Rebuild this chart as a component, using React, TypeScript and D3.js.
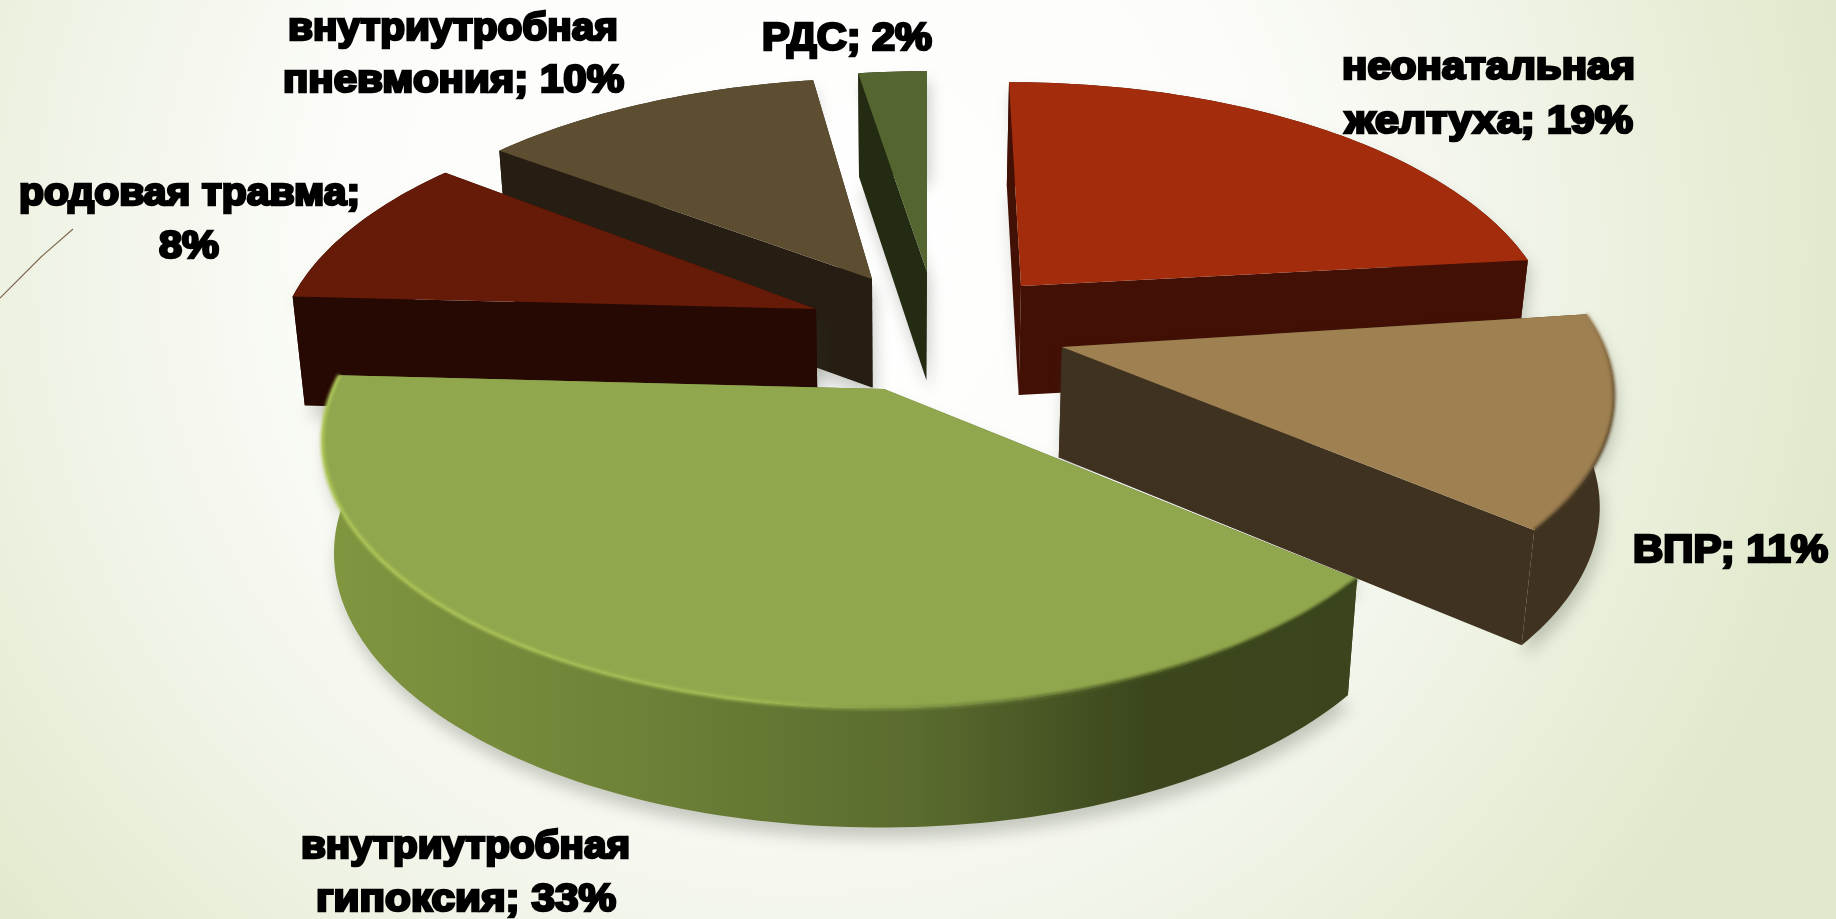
import React from "react";
import * as d3 from "d3";

const W = 1836;
const H = 919;

// Data
const categories = ["неонатальная желтуха", "ВПР", "внутриутробная гипоксия", "родовая травма", "внутриутробная пневмония", "РДС"];
const percents = [19, 11, 33, 8, 10, 2];

// Label line breaks
const labelLines = [
  ["неонатальная", "желтуха; 19%"],
  ["ВПР; 11%"],
  ["внутриутробная", "гипоксия; 33%"],
  ["родовая травма;", "8%"],
  ["внутриутробная", "пневмония; 10%"],
  ["РДС; 2%"],
];

// Layout, per slice
const topColors = ["#A32C0C", "#9E8051", "#91A74D", "#651B08", "#5E4E31", "#556530"];
const wallColors = ["#421005", "#3F3220", "#3a451d", "#260902", "#261E12", "#232B13"];
const apexX = [1021, 1062, 884, 816, 872, 927];
const apexY = [286, 347, 389, 309, 279, 272];
const rimScaleX = [0.99, 1, 1.01, 1, 1, 1];
const rimScaleY = [1, 1, 1.03, 1, 1, 1];
const rimShiftX = [-12, 0, -4, 12, 10, 0];
const rimShiftY = [-3, -10, -9, -8, 0, 0];
const paintOrder = [5, 4, 3, 0, 1, 2];

// Label layout: [x0, x1, baseline] per line
const labelBoxes = [
  [[1341, 1636, 79], [1344, 1634, 133]],
  [[1632, 1829, 562]],
  [[300, 631, 858], [315, 617, 911]],
  [[18, 361, 205], [158, 220, 258]],
  [[287, 619, 40], [282, 625, 92]],
  [[761, 933, 50]],
];

// Projection of the tilted pie plane
const PX = 542;
const PY = 248.5;
const PC = 9.5;
const PK = 0.19;
const VANISH_X = 900;

type Pt = [number, number];

function rimOffset(theta: number): Pt {
  const p = Math.sin(theta);
  const q = -Math.cos(theta);
  const w = 1 - PK * q;
  return [(PX * p) / w, (PY * q + PC) / w];
}

function rimPoint(i: number, theta: number): Pt {
  const [x, y] = rimOffset(theta);
  return [apexX[i] + x * rimScaleX[i] + rimShiftX[i], apexY[i] + y * rimScaleY[i] + rimShiftY[i]];
}

function drop([x, y]: Pt): Pt {
  const depth = 108 + (y - 250) * 0.025;
  return [VANISH_X + (x - VANISH_X) * 0.98, y + depth];
}

const line = d3.line<Pt>();
const closed = (pts: Pt[]) => (line(pts) as string) + "Z";

const arcs = d3.pie<number>().sort(null).value((d) => d)(percents);

function sliceShapes(i: number) {
  const a = arcs[i];
  const n = Math.max(8, Math.ceil((a.endAngle - a.startAngle) * 50));
  const rim: Pt[] = d3.range(n + 1).map((k) => rimPoint(i, a.startAngle + ((a.endAngle - a.startAngle) * k) / n));
  const apex: Pt = [apexX[i], apexY[i]];
  const first = rim[0];
  const last = rim[rim.length - 1];
  return {
    rim,
    top: closed([apex, ...rim]),
    outer: closed([...rim, ...rim.map(drop).reverse()]),
    startWall: closed([apex, first, drop(first), drop(apex)]),
    endWall: closed([apex, last, drop(last), drop(apex)]),
    silhouette: closed([apex, ...rim, ...rim.map(drop).reverse(), drop(apex)]),
  };
}

export default function App() {
  return (
    <svg width={W} height={H} style={{ position: "fixed", left: 0, top: 0 }} viewBox={`0 0 ${W} ${H}`}>
      <defs>
        <radialGradient id="bg" gradientUnits="userSpaceOnUse" cx={800} cy={250} r={1060}>
          <stop offset="0" stopColor="#ffffff" />
          <stop offset="0.42" stopColor="#fcfdfa" />
          <stop offset="0.66" stopColor="#f2f5ea" />
          <stop offset="1" stopColor="#e0e9cb" />
        </radialGradient>
        <linearGradient id="greenWall" gradientUnits="userSpaceOnUse" x1={325} x2={1350} y1={0} y2={0}>
          <stop offset="0" stopColor="#81963f" />
          <stop offset="0.3" stopColor="#6e8238" />
          <stop offset="0.58" stopColor="#5a6b2e" />
          <stop offset="0.8" stopColor="#3b461d" />
          <stop offset="1" stopColor="#3a451d" />
        </linearGradient>
        <linearGradient id="greenRim" gradientUnits="userSpaceOnUse" x1={325} x2={1350} y1={0} y2={0}>
          <stop offset="0" stopColor="#b0c858" />
          <stop offset="0.42" stopColor="#a3bb52" />
          <stop offset="0.58" stopColor="#7a8f40" />
          <stop offset="0.8" stopColor="#46531f" />
          <stop offset="1" stopColor="#3a451d" />
        </linearGradient>
        <linearGradient id="tanRim" gradientUnits="userSpaceOnUse" x1={0} x2={0} y1={314} y2={530}>
          <stop offset="0" stopColor="#9E8051" />
          <stop offset="0.35" stopColor="#6e5735" />
          <stop offset="1" stopColor="#4a3a24" />
        </linearGradient>
        <filter id="soft" x="-20%" y="-20%" width="140%" height="140%">
          <feGaussianBlur stdDeviation="1.4" />
        </filter>
        <filter id="shadow" x="-20%" y="-20%" width="140%" height="140%">
          <feGaussianBlur stdDeviation="8" />
        </filter>
      </defs>
      <rect width={W} height={H} fill="url(#bg)" />
      <path d="M0,298 L41,257 L73,229" fill="none" stroke="#7a6a50" strokeWidth={1.1} />
      {paintOrder.map((i) => {
        const s = sliceShapes(i);
        const isGreen = i === 2;
        const wall = isGreen ? "url(#greenWall)" : wallColors[i];
        return (
          <g key={categories[i]}>
            <path d={s.silhouette} fill="#3a4030" opacity={0.26} transform="translate(3,11)" filter="url(#shadow)" />
            <path d={s.outer} fill={wall} />
            <path d={s.startWall} fill={wall} />
            <path d={s.endWall} fill={wall} />
            <path d={s.top} fill={topColors[i]} />
            {isGreen && (
              <path d={line(s.rim) as string} fill="none" stroke="url(#greenRim)" strokeWidth={3.5} filter="url(#soft)" />
            )}
            {i === 1 && (
              <path d={line(s.rim) as string} fill="none" stroke="url(#tanRim)" strokeWidth={3} filter="url(#soft)" />
            )}
          </g>
        );
      })}
      {labelLines.map((lines, i) =>
        lines.map((t, j) => {
          const [x0, x1, y] = labelBoxes[i][j];
          return (
            <text
              key={t + i}
              x={x0 + 1}
              y={y}
              textLength={x1 - x0 - 2}
              lengthAdjust="spacingAndGlyphs"
              fontFamily="'Liberation Sans', Arial, sans-serif"
              fontWeight={700}
              fontSize={38}
              fill="#000"
              stroke="#000"
              strokeWidth={2.6}
            >
              {t}
            </text>
          );
        })
      )}
    </svg>
  );
}
